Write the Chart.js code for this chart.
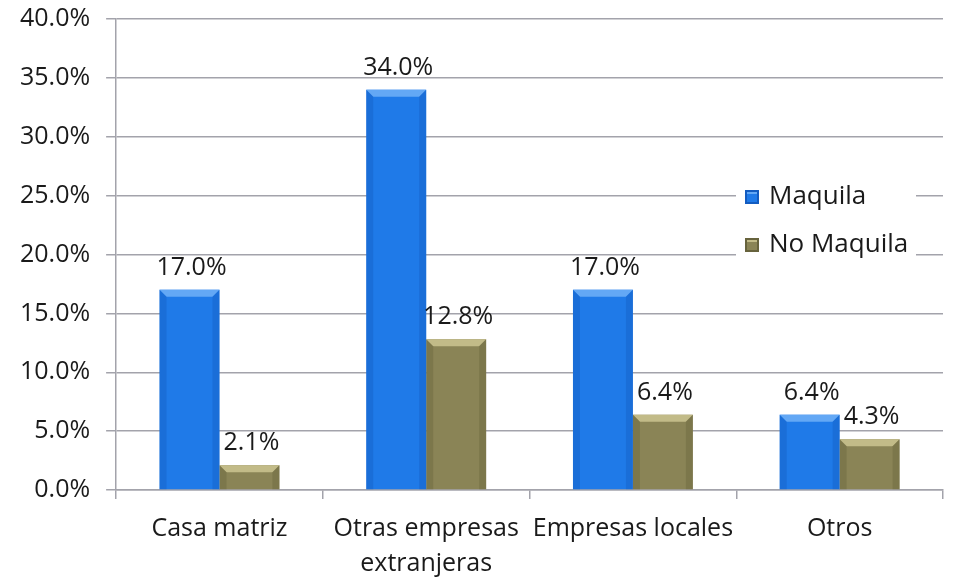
<!DOCTYPE html>
<html>
<head>
<meta charset="utf-8">
<script src="https://cdn.jsdelivr.net/npm/chart.js@4"></script>
<style>
  html, body { margin: 0; padding: 0; background: #fff; }
  #wrap { width: 953px; height: 582px; }
</style>
</head>
<body>
<div id="wrap"><canvas id="chart" width="953" height="582"></canvas></div>
<script>
// ---- data ----
const categories = ['Casa matriz', ['Otras empresas', 'extranjeras'], 'Empresas locales', 'Otros'];
const maquila = [17.0, 34.0, 17.0, 6.4];
const noMaquila = [2.1, 12.8, 6.4, 4.3];
const seriesNames = ['Maquila', 'No Maquila'];
const yTicks = [0, 5, 10, 15, 20, 25, 30, 35, 40];

const FONT = "'Open Sans', sans-serif";
const COLORS = [
    { base: '#1f7ae8', light: '#63a8f5', dark: '#135cc0' },
    { base: '#8a8456', light: '#c2bb88', dark: '#67633d' }
];

// bevel on each bar: light top edge, darker sides
const bevel = {
    id: 'bevel',
    afterDatasetsDraw(chart) {
        const c = chart.ctx;
        c.save();
        chart.data.datasets.forEach((ds, i) => {
            const col = COLORS[i];
            chart.getDatasetMeta(i).data.forEach(bar => {
                const x0 = bar.x - bar.width / 2, x1 = bar.x + bar.width / 2;
                const top = bar.y, bot = bar.base;
                const b = Math.min(7, (bot - top) / 2);
                c.fillStyle = col.light;
                c.beginPath();
                c.moveTo(x0, top); c.lineTo(x1, top); c.lineTo(x1 - b, top + b); c.lineTo(x0 + b, top + b);
                c.closePath(); c.fill();
                c.fillStyle = col.dark;
                c.globalAlpha = 0.4;
                c.beginPath();
                c.moveTo(x0, top); c.lineTo(x0 + b, top + b); c.lineTo(x0 + b, bot); c.lineTo(x0, bot);
                c.closePath(); c.fill();
                c.beginPath();
                c.moveTo(x1, top); c.lineTo(x1 - b, top + b); c.lineTo(x1 - b, bot); c.lineTo(x1, bot);
                c.closePath(); c.fill();
                c.globalAlpha = 1;
            });
        });
        c.restore();
    }
};

// value labels above bars
const valueLabels = {
    id: 'valueLabels',
    afterDatasetsDraw(chart) {
        const c = chart.ctx;
        c.save();
        c.font = '25px ' + FONT;
        c.fillStyle = '#1a1a1a';
        c.textAlign = 'center';
        c.textBaseline = 'alphabetic';
        chart.data.datasets.forEach((ds, i) => {
            chart.getDatasetMeta(i).data.forEach((bar, j) => {
                c.fillText(ds.data[j].toFixed(1) + '%', bar.x + 2, bar.y - 15);
            });
        });
        c.restore();
    }
};

// legend box drawn inside the plot area
const insideLegend = {
    id: 'insideLegend',
    afterDraw(chart) {
        const c = chart.ctx;
        const ys = chart.scales.y;
        const xLeft = 736, w = 180;
        const yTop = ys.getPixelForValue(27.5), yBot = ys.getPixelForValue(18.5);
        c.save();
        c.fillStyle = '#fff';
        c.fillRect(xLeft, yTop, w, yBot - yTop);
        const rowY = [197, 245];
        c.font = '26px ' + FONT;
        c.textBaseline = 'middle';
        c.textAlign = 'left';
        seriesNames.forEach((name, i) => {
            const y = rowY[i], col = COLORS[i];
            c.fillStyle = col.dark;
            c.fillRect(xLeft + 9, y - 7, 14, 14);
            c.fillStyle = col.base;
            c.fillRect(xLeft + 11, y - 5, 10, 10);
            c.fillStyle = col.light;
            c.fillRect(xLeft + 11, y - 5, 10, 2);
            c.fillStyle = '#1a1a1a';
            c.fillText(name, xLeft + 33, y);
        });
        c.restore();
    }
};

new Chart(document.getElementById('chart').getContext('2d'), {
    type: 'bar',
    data: {
        labels: categories,
        datasets: [
            { label: seriesNames[0], data: maquila, backgroundColor: COLORS[0].base },
            { label: seriesNames[1], data: noMaquila, backgroundColor: COLORS[1].base }
        ]
    },
    options: {
        responsive: false, animation: false,
        layout: { padding: { top: 19, right: 10, left: 4, bottom: 0 } },
        datasets: { bar: { categoryPercentage: 0.58, barPercentage: 1.0 } },
        plugins: { legend: { display: false }, tooltip: { enabled: false } },
        scales: {
            y: {
                min: 0, max: 40,
                afterBuildTicks: axis => { axis.ticks = yTicks.map(v => ({ value: v })); },
                afterFit: axis => { axis.paddingTop = 0; axis.paddingBottom = 0; },
                ticks: { color: '#1a1a1a', font: { size: 25, family: FONT }, padding: 16,
                         callback: v => v.toFixed(1) + '%' },
                grid: { color: '#a3a3ab', lineWidth: 1.5, tickLength: 10 },
                border: { color: '#a3a3ab', width: 1.5 }
            },
            x: {
                afterFit: axis => { axis.height = 92; },
                ticks: { color: '#1a1a1a', font: { size: 25, family: FONT, lineHeight: 1.4 }, padding: 12, maxRotation: 0 },
                grid: { display: true, drawOnChartArea: false, color: '#a3a3ab', lineWidth: 1.5, tickLength: 9, offset: true },
                border: { color: '#a3a3ab', width: 1.5 }
            }
        }
    },
    plugins: [bevel, valueLabels, insideLegend]
});
</script>
</body>
</html>
